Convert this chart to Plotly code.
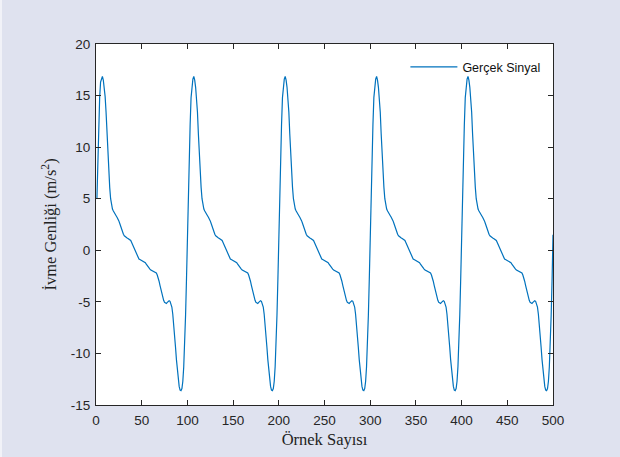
import plotly.graph_objects as go

# One period of the measured acceleration waveform (samples 1..100 of each cycle)
cycle_values = [
    5.0, 8.8, 12.2, 14.8, 16.3, 16.6, 16.85, 16.5, 15.8, 14.9,
    13.4, 11.3, 9.2, 7.5, 6.1, 5.0, 4.3, 4.0, 3.8, 3.6,
    3.45, 3.35, 3.2, 3.05, 2.85, 2.6, 2.3, 1.95, 1.7, 1.55,
    1.4, 1.3, 1.25, 1.2, 1.15, 1.1, 1.05, 0.95, 0.75, 0.55,
    0.3, 0.1, -0.15, -0.4, -0.6, -0.75, -0.85, -0.9, -0.95, -0.98,
    -1.0, -1.02, -1.1, -1.2, -1.35, -1.5, -1.6, -1.7, -1.82, -1.92,
    -1.98, -2.02, -2.05, -2.1, -2.15, -2.2, -2.4, -2.65, -3.0, -3.4,
    -3.8, -4.2, -4.55, -4.85, -5.05, -5.15, -5.15, -5.05, -4.95, -4.9,
    -4.95, -5.15, -5.5, -6.2, -7.1, -8.2, -9.4, -10.6, -11.7, -12.6,
    -13.2, -13.55, -13.6, -13.4, -12.7, -11.3, -9.2, -6.3, -2.8, 1.5,
]
n_cycles = 5
signal = cycle_values * n_cycles
samples = list(range(1, len(signal) + 1))

x_ticks = list(range(0, 501, 50))
y_ticks = list(range(-15, 21, 5))

axis_color = "#262626"
bg_color = "#dfe2ef"

fig = go.Figure()
fig.add_trace(go.Scatter(
    x=samples, y=signal, mode="lines", name="Gerçek Sinyal",
    line=dict(color="#0072BD", width=1.2),
))

axis_common = dict(
    showline=True, linecolor=axis_color, linewidth=1, mirror="allticks",
    ticks="inside", ticklen=5, tickwidth=1, tickcolor=axis_color,
    showgrid=False, zeroline=False,
    tickfont=dict(family="Liberation Sans, Arial", size=13.5, color=axis_color),
)

title_font = dict(family="Liberation Serif, Times New Roman", size=16.5, color="#222222")

fig.update_xaxes(
    range=[0, 500], tickvals=x_ticks, ticktext=[str(v) for v in x_ticks],
    ticklabelstandoff=3,
    title=dict(text="Örnek Sayısı", standoff=6, font=title_font),
    **axis_common,
)
fig.update_yaxes(
    range=[-15, 20], tickvals=y_ticks, ticktext=[str(v) for v in y_ticks],
    ticklabelstandoff=2, automargin=True,
    title=dict(text="İvme Genliği (m/s<sup>2</sup>)", standoff=10, font=title_font),
    **axis_common,
)

fig.update_layout(
    width=620, height=457,
    margin=dict(l=96, r=67, t=44, b=52),
    paper_bgcolor=bg_color, plot_bgcolor="white",
    showlegend=True,
    legend=dict(
        x=0.677, y=0.977, xanchor="left", yanchor="top",
        itemwidth=47,
        bgcolor="rgba(255,255,255,0)", borderwidth=0,
        font=dict(family="Liberation Sans, Arial", size=12.5, color="#111111"),
    ),
    shapes=[dict(
        type="rect", xref="paper", yref="paper", layer="below",
        x0=-96 / 457, x1=-94 / 457, y0=-52 / 361, y1=(361 + 44) / 361,
        fillcolor="#f1f2f8", line=dict(width=0),
    )],
)

fig.write_html("out.html")
